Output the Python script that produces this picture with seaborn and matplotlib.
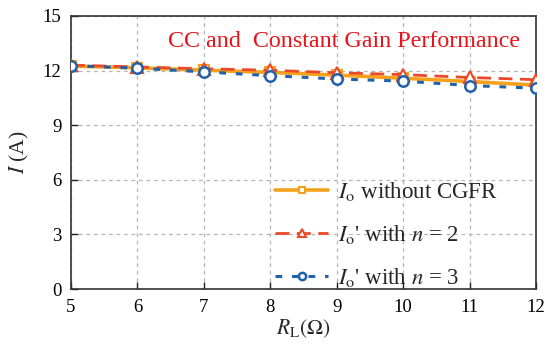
import matplotlib
matplotlib.use("Agg")
import matplotlib.pyplot as plt
import seaborn as sns
import pandas as pd

# Load resistance and output currents
r_load = [5, 6, 7, 8, 9, 10, 11, 12]
io_without_cgfr = [12.25, 12.15, 12.02, 11.9, 11.75, 11.58, 11.4, 11.2]
io_n2 = [12.3, 12.2, 12.1, 12.02, 11.88, 11.78, 11.62, 11.5]
io_n3 = [12.27, 12.13, 11.93, 11.72, 11.54, 11.42, 11.18, 11.03]

y_ticks = [0, 3, 6, 9, 12, 15]
title_text = "CC and  Constant Gain Performance"
labels = [r"$I_\mathrm{o}$ without CGFR",
          r"$I_\mathrm{o}$' with $n$ = 2",
          r"$I_\mathrm{o}$' with $n$ = 3"]

sns.set_theme(style="ticks")
plt.rcParams["font.family"] = ["Liberation Serif", "DejaVu Serif"]
plt.rcParams["mathtext.fontset"] = "stix"

df = pd.DataFrame({"RL": r_load, "a": io_without_cgfr, "b": io_n2, "c": io_n3})

fig = plt.figure(figsize=(5.59, 3.47), dpi=100)
ax = fig.add_axes([0.127, 0.167, 0.832, 0.787])

c_orange = "#F5A11C"
c_red = "#EA4A2A"
c_blue = "#2160AA"

sns.lineplot(data=df, x="RL", y="c", ax=ax, color=c_blue, lw=2.2,
             dashes=False, linestyle=(0, (2.2, 3.2)), marker="o", markersize=7.5,
             markerfacecolor="white", markeredgecolor=c_blue, markeredgewidth=1.8,
             label=labels[2], zorder=2)
sns.lineplot(data=df, x="RL", y="a", ax=ax, color=c_orange, lw=2.6,
             marker="s", markersize=7, markerfacecolor="white",
             markeredgecolor=c_orange, markeredgewidth=1.5,
             label=labels[0], zorder=3)
sns.lineplot(data=df, x="RL", y="b", ax=ax, color=c_red, lw=2.0,
             linestyle=(0, (5, 2.7)), marker="^", markersize=8,
             markerfacecolor="white", markeredgecolor=c_red, markeredgewidth=1.5,
             label=labels[1], zorder=4)
# Keep circle markers visible on top
for ln in ax.lines:
    if ln.get_marker() == "o":
        ln.set_zorder(5)

ax.set_xlim(5, 12)
ax.set_ylim(0, 15)
ax.set_xticks(r_load)
ax.set_yticks(y_ticks)
ax.tick_params(direction="in", length=5, width=1, labelsize=13.5, colors="#222222",
               pad=7, top=False, right=False)
for lab in ax.get_xticklabels() + ax.get_yticklabels():
    lab.set_color("black")
for s in ax.spines.values():
    s.set_visible(True)
    s.set_color("#333333")
    s.set_linewidth(1.2)
ax.grid(True, linestyle=(0, (3, 3)), color="#b5b5b5", lw=0.9)
ax.set_axisbelow(True)

ax.set_xlabel(r"$R_\mathrm{L}(\Omega)$", fontsize=15.5, labelpad=1)
ax.set_ylabel(r"$I$ (A)", fontsize=15.5, labelpad=8)

ax.text(0.966, 0.905, title_text, transform=ax.transAxes, ha="right",
        va="center", color="#E8141C", fontsize=17.3)

handles, lbls = ax.get_legend_handles_labels()
order = [lbls.index(l) for l in labels]
leg = ax.legend([handles[i] for i in order], [lbls[i] for i in order],
                loc="upper left", bbox_to_anchor=(0.439, 0.40), frameon=False,
                fontsize=16.5, handlelength=2.3, handletextpad=0.45,
                labelspacing=0.88, borderaxespad=0, borderpad=0, markerscale=0.7)

fig.savefig("out.png", dpi=100)
